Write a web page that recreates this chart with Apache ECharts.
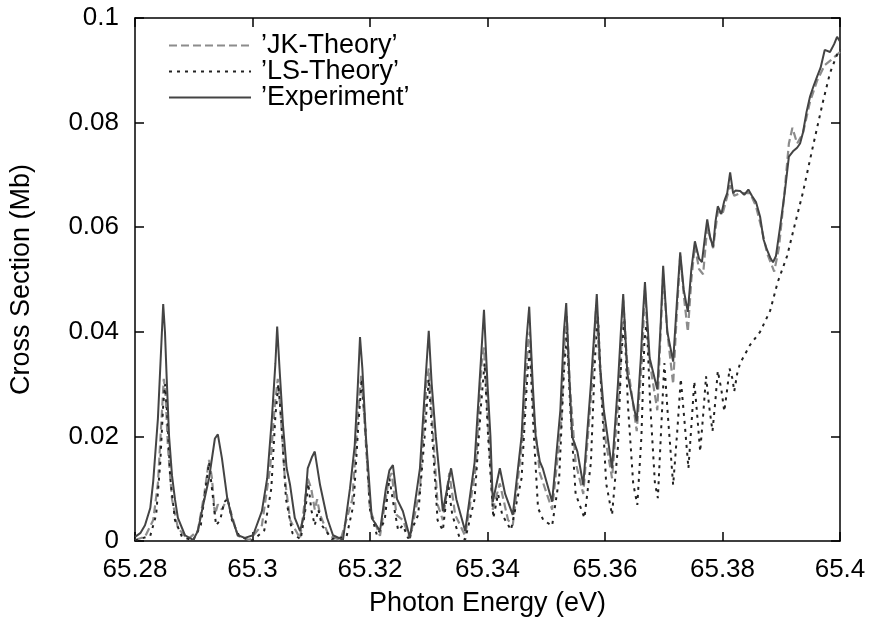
<!DOCTYPE html>
<html>
<head>
<meta charset="utf-8">
<script src="https://cdn.jsdelivr.net/npm/echarts@6/dist/echarts.min.js"></script>
<style>
  html, body { margin: 0; padding: 0; background: #fff; }
  #chart { width: 871px; height: 622px; }
</style>
</head>
<body>
<div id="chart"></div>
<script>
  // axis range / ticks
  var xMin = 65.28, xMax = 65.4, xStep = 0.02;
  var yMin = 0, yMax = 0.1, yStep = 0.02;
  var seriesNames = ['\u2019JK-Theory\u2019', '\u2019LS-Theory\u2019', '\u2019Experiment\u2019'];

  // JK theory (dashed)
  var jkData = [
    [65.2800,0.0002],[65.2817,0.0008],[65.2831,0.0040],[65.2839,0.0110],[65.2845,0.0230],[65.2849,0.0310],[65.2852,0.0280],
    [65.2856,0.0180],[65.2863,0.0080],[65.2873,0.0025],[65.2890,0.0003],[65.2907,0.0020],[65.2918,0.0090],[65.2926,0.0155],
    [65.2931,0.0120],[65.2936,0.0050],[65.2941,0.0070],[65.2948,0.0060],[65.2957,0.0082],[65.2962,0.0060],[65.2975,0.0010],
    [65.2995,0.0002],[65.3016,0.0030],[65.3030,0.0140],[65.3038,0.0260],[65.3043,0.0310],[65.3047,0.0260],[65.3055,0.0120],
    [65.3064,0.0040],[65.3081,0.0005],[65.3094,0.0120],[65.3100,0.0100],[65.3106,0.0060],[65.3110,0.0080],[65.3115,0.0050],
    [65.3130,0.0010],[65.3150,0.0002],[65.3170,0.0080],[65.3180,0.0250],[65.3185,0.0316],[65.3190,0.0240],[65.3200,0.0060],
    [65.3217,0.0010],[65.3232,0.0120],[65.3237,0.0130],[65.3245,0.0050],[65.3256,0.0040],[65.3268,0.0005],[65.3285,0.0100],
    [65.3296,0.0300],[65.3300,0.0330],[65.3305,0.0250],[65.3315,0.0070],[65.3324,0.0040],[65.3335,0.0130],[65.3345,0.0050],
    [65.3362,0.0010],[65.3380,0.0140],[65.3390,0.0340],[65.3394,0.0370],[65.3400,0.0250],[65.3409,0.0060],[65.3421,0.0110],
    [65.3435,0.0040],[65.3443,0.0030],[65.3460,0.0200],[65.3469,0.0380],[65.3472,0.0400],[65.3478,0.0250],[65.3489,0.0130],
    [65.3510,0.0060],[65.3525,0.0220],[65.3532,0.0400],[65.3535,0.0430],[65.3540,0.0300],[65.3550,0.0150],[65.3563,0.0090],
    [65.3578,0.0300],[65.3585,0.0450],[65.3590,0.0350],[65.3600,0.0200],[65.3612,0.0120],[65.3625,0.0300],[65.3631,0.0460],
    [65.3637,0.0350],[65.3654,0.0210],[65.3663,0.0350],[65.3668,0.0480],[65.3675,0.0350],[65.3689,0.0250],[65.3694,0.0380],
    [65.3699,0.0510],[65.3706,0.0400],[65.3716,0.0300],[65.3722,0.0430],[65.3728,0.0545],[65.3735,0.0460],[65.3741,0.0400],
    [65.3747,0.0500],[65.3753,0.0565],[65.3760,0.0520],[65.3767,0.0510],[65.3774,0.0600],[65.3784,0.0560],[65.3792,0.0630],
    [65.3800,0.0625],[65.3813,0.0680],[65.3820,0.0660],[65.3830,0.0665],[65.3847,0.0665],[65.3857,0.0640],[65.3866,0.0600],
    [65.3876,0.0550],[65.3888,0.0515],[65.3896,0.0560],[65.3905,0.0660],[65.3913,0.0760],[65.3919,0.0790],[65.3927,0.0760],
    [65.3937,0.0780],[65.3949,0.0840],[65.3961,0.0880],[65.3974,0.0910],[65.3985,0.0920],[65.4000,0.0935]
  ];

  // LS theory (dotted)
  var lsData = [
    [65.2800,0.0001],[65.2826,0.0010],[65.2836,0.0050],[65.2843,0.0150],[65.2848,0.0260],[65.2851,0.0300],[65.2855,0.0240],
    [65.2860,0.0120],[65.2868,0.0040],[65.2880,0.0008],[65.2899,0.0001],[65.2912,0.0030],[65.2920,0.0100],[65.2926,0.0150],
    [65.2932,0.0090],[65.2938,0.0030],[65.2945,0.0040],[65.2952,0.0075],[65.2958,0.0080],[65.2965,0.0040],[65.2978,0.0008],
    [65.3000,0.0001],[65.3020,0.0020],[65.3032,0.0100],[65.3039,0.0240],[65.3044,0.0300],[65.3049,0.0230],[65.3057,0.0080],
    [65.3068,0.0015],[65.3082,0.0003],[65.3090,0.0060],[65.3095,0.0110],[65.3100,0.0060],[65.3106,0.0030],[65.3112,0.0060],
    [65.3118,0.0030],[65.3135,0.0004],[65.3160,0.0008],[65.3172,0.0070],[65.3180,0.0220],[65.3186,0.0310],[65.3192,0.0220],
    [65.3200,0.0060],[65.3212,0.0010],[65.3225,0.0040],[65.3233,0.0120],[65.3240,0.0070],[65.3248,0.0020],[65.3256,0.0030],
    [65.3265,0.0005],[65.3282,0.0050],[65.3293,0.0200],[65.3300,0.0310],[65.3306,0.0200],[65.3315,0.0040],[65.3324,0.0020],
    [65.3333,0.0110],[65.3340,0.0050],[65.3352,0.0008],[65.3362,0.0003],[65.3378,0.0080],[65.3389,0.0260],[65.3395,0.0340],
    [65.3401,0.0200],[65.3410,0.0044],[65.3418,0.0090],[65.3425,0.0050],[65.3440,0.0021],[65.3458,0.0120],[65.3467,0.0300],
    [65.3472,0.0370],[65.3478,0.0220],[65.3486,0.0063],[65.3495,0.0040],[65.3510,0.0029],[65.3522,0.0120],[65.3530,0.0320],
    [65.3535,0.0400],[65.3541,0.0250],[65.3550,0.0090],[65.3565,0.0044],[65.3576,0.0150],[65.3583,0.0350],[65.3588,0.0430],
    [65.3594,0.0280],[65.3602,0.0110],[65.3612,0.0050],[65.3622,0.0180],[65.3628,0.0360],[65.3633,0.0420],[65.3639,0.0260],
    [65.3648,0.0110],[65.3655,0.0069],[65.3662,0.0200],[65.3667,0.0380],[65.3671,0.0420],[65.3677,0.0260],[65.3685,0.0110],
    [65.3690,0.0082],[65.3695,0.0200],[65.3701,0.0340],[65.3707,0.0240],[65.3716,0.0107],[65.3723,0.0210],[65.3729,0.0310],
    [65.3736,0.0220],[65.3742,0.0139],[65.3747,0.0220],[65.3752,0.0305],[65.3757,0.0240],[65.3762,0.0171],[65.3767,0.0240],
    [65.3772,0.0315],[65.3777,0.0260],[65.3783,0.0210],[65.3788,0.0270],[65.3792,0.0325],[65.3798,0.0290],[65.3803,0.0248],
    [65.3808,0.0290],[65.3812,0.0330],[65.3817,0.0310],[65.3820,0.0286],[65.3825,0.0320],[65.3830,0.0340],[65.3847,0.0375],
    [65.3864,0.0400],[65.3881,0.0440],[65.3894,0.0495],[65.3910,0.0545],[65.3922,0.0600],[65.3937,0.0667],[65.3954,0.0755],
    [65.3971,0.0840],[65.3983,0.0895],[65.3995,0.0930],[65.4000,0.0940]
  ];

  // measured spectrum (solid)
  var expData = [
    [65.2800,0.0008],[65.2809,0.0015],[65.2817,0.0030],[65.2826,0.0063],[65.2831,0.0114],[65.2839,0.0234],[65.2845,0.0380],
    [65.2848,0.0453],[65.2851,0.0400],[65.2854,0.0310],[65.2858,0.0200],[65.2863,0.0125],[65.2868,0.0080],[65.2873,0.0044],
    [65.2885,0.0011],[65.2899,0.0002],[65.2907,0.0019],[65.2916,0.0069],[65.2926,0.0120],[65.2936,0.0196],[65.2941,0.0204],
    [65.2948,0.0158],[65.2957,0.0082],[65.2965,0.0044],[65.2975,0.0011],[65.2987,0.0006],[65.3001,0.0011],[65.3016,0.0057],
    [65.3025,0.0120],[65.3033,0.0234],[65.3039,0.0340],[65.3042,0.0410],[65.3046,0.0330],[65.3052,0.0220],[65.3058,0.0140],
    [65.3064,0.0107],[65.3072,0.0044],[65.3081,0.0019],[65.3088,0.0050],[65.3094,0.0139],[65.3101,0.0160],[65.3106,0.0171],
    [65.3115,0.0107],[65.3127,0.0044],[65.3137,0.0011],[65.3154,0.0002],[65.3166,0.0101],[65.3174,0.0183],[65.3179,0.0290],
    [65.3183,0.0390],[65.3187,0.0330],[65.3193,0.0200],[65.3203,0.0044],[65.3217,0.0019],[65.3227,0.0100],[65.3233,0.0135],
    [65.3239,0.0145],[65.3246,0.0080],[65.3256,0.0057],[65.3268,0.0006],[65.3285,0.0139],[65.3294,0.0300],[65.3300,0.0402],
    [65.3305,0.0300],[65.3312,0.0200],[65.3324,0.0057],[65.3338,0.0139],[65.3347,0.0080],[65.3362,0.0019],[65.3378,0.0150],
    [65.3389,0.0350],[65.3394,0.0442],[65.3400,0.0300],[65.3405,0.0200],[65.3409,0.0075],[65.3421,0.0139],[65.3430,0.0090],
    [65.3443,0.0050],[65.3458,0.0200],[65.3466,0.0380],[65.3471,0.0448],[65.3477,0.0300],[65.3482,0.0200],[65.3489,0.0152],
    [65.3494,0.0139],[65.3510,0.0075],[65.3524,0.0250],[65.3530,0.0400],[65.3534,0.0455],[65.3539,0.0320],[65.3544,0.0200],
    [65.3553,0.0171],[65.3563,0.0107],[65.3576,0.0300],[65.3583,0.0420],[65.3586,0.0472],[65.3592,0.0330],[65.3598,0.0250],
    [65.3612,0.0139],[65.3622,0.0300],[65.3628,0.0420],[65.3631,0.0472],[65.3638,0.0320],[65.3654,0.0229],[65.3661,0.0350],
    [65.3665,0.0440],[65.3668,0.0495],[65.3676,0.0350],[65.3689,0.0290],[65.3695,0.0420],[65.3699,0.0526],[65.3706,0.0400],
    [65.3716,0.0343],[65.3722,0.0450],[65.3728,0.0552],[65.3734,0.0480],[65.3741,0.0438],[65.3747,0.0520],[65.3753,0.0573],
    [65.3760,0.0540],[65.3765,0.0533],[65.3770,0.0580],[65.3774,0.0615],[65.3779,0.0580],[65.3784,0.0562],[65.3788,0.0610],
    [65.3792,0.0640],[65.3798,0.0625],[65.3803,0.0650],[65.3808,0.0665],[65.3813,0.0705],[65.3818,0.0665],[65.3822,0.0670],
    [65.3830,0.0669],[65.3837,0.0662],[65.3844,0.0672],[65.3850,0.0660],[65.3857,0.0648],[65.3864,0.0620],[65.3870,0.0576],
    [65.3876,0.0556],[65.3882,0.0540],[65.3886,0.0533],[65.3891,0.0545],[65.3898,0.0600],[65.3906,0.0667],[65.3913,0.0735],
    [65.3920,0.0745],[65.3927,0.0752],[65.3932,0.0760],[65.3937,0.0781],[65.3943,0.0820],[65.3949,0.0850],[65.3955,0.0870],
    [65.3961,0.0888],[65.3967,0.0905],[65.3974,0.0939],[65.3983,0.0935],[65.3990,0.0950],[65.3995,0.0964],[65.4000,0.0955]
  ];

  var font = 'Liberation Sans';
  var chart = echarts.init(document.getElementById('chart'));

  function tickFmt(v) { return String(+v.toFixed(2)); }

  var frameLine = { onZero: false, lineStyle: { color: '#000', width: 1.5 } };
  var innerTick = { inside: true, length: 9, lineStyle: { color: '#000', width: 1.5 } };

  var option = {
    animation: false,
    backgroundColor: '#fff',
    grid: { left: 135, right: 31, top: 18, bottom: 79 },
    legend: {
      orient: 'vertical',
      left: 163,
      top: 27,
      itemWidth: 82,
      itemHeight: 14,
      itemGap: -1,
      padding: 5,
      data: seriesNames,
      itemStyle: { opacity: 0 },
      textStyle: { fontFamily: font, fontSize: 27, color: '#000', padding: [0, 0, 0, 5] }
    },
    xAxis: [{
      type: 'value', min: xMin, max: xMax, interval: xStep, position: 'bottom',
      axisLine: frameLine, axisTick: innerTick, splitLine: { show: false },
      axisLabel: { formatter: tickFmt, fontFamily: font, fontSize: 26, color: '#000', margin: 16 },
      name: 'Photon Energy (eV)', nameLocation: 'middle', nameGap: 49,
      nameTextStyle: { fontFamily: font, fontSize: 27, color: '#000' }
    }, {
      type: 'value', min: xMin, max: xMax, interval: xStep, position: 'top',
      axisLine: frameLine, axisTick: innerTick, splitLine: { show: false },
      axisLabel: { show: false }
    }],
    yAxis: [{
      type: 'value', min: yMin, max: yMax, interval: yStep, position: 'left',
      axisLine: frameLine, axisTick: innerTick, splitLine: { show: false },
      axisLabel: { formatter: tickFmt, fontFamily: font, fontSize: 26, color: '#000', margin: 16 },
      name: 'Cross Section (Mb)', nameLocation: 'middle', nameGap: 100, nameRotate: 90,
      nameTextStyle: { fontFamily: font, fontSize: 27, color: '#000' }
    }, {
      type: 'value', min: yMin, max: yMax, interval: yStep, position: 'right',
      axisLine: frameLine, axisTick: innerTick, splitLine: { show: false },
      axisLabel: { show: false }
    }],
    series: [{
      name: seriesNames[0], type: 'line', data: jkData, symbol: 'none',
      lineStyle: { color: '#8c8c8c', width: 2.2, type: [8, 4] },
      itemStyle: { color: '#8c8c8c' }
    }, {
      name: seriesNames[1], type: 'line', data: lsData, symbol: 'none',
      lineStyle: { color: '#222', width: 2, type: [3, 5] },
      itemStyle: { color: '#222' }
    }, {
      name: seriesNames[2], type: 'line', data: expData, symbol: 'none',
      lineStyle: { color: '#444', width: 2 },
      itemStyle: { color: '#444' }
    }]
  };

  chart.setOption(option);
</script>
</body>
</html>
